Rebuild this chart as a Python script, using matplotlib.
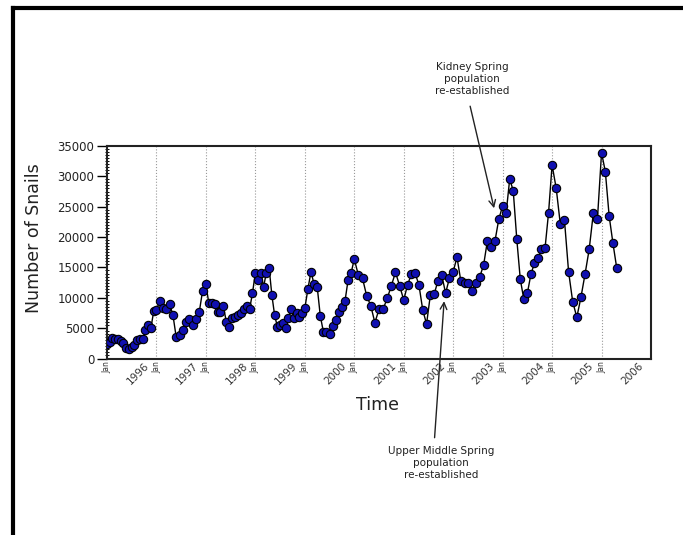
import numpy as np
import matplotlib
matplotlib.use("Agg")
import matplotlib.pyplot as plt
from matplotlib.lines import Line2D
from matplotlib.ticker import MultipleLocator
import matplotlib.transforms as mtransforms

# ---- data (snail counts per sampling date, grouped by year) ----
years = [1996, 1997, 1998, 1999, 2000, 2001, 2002, 2003, 2004, 2005, 2006]
counts_1996 = [2390, 2720, 3330, 3160, 3270, 2940, 2500, 1780, 1510, 1840, 2220, 3050, 3270, 3270, 4700, 5470, 5080, 7770]
counts_1997 = [7990, 9520, 8320, 8150, 8980, 7160, 3490, 3920, 4700, 6060, 6460, 5520, 6460, 7710, 11170]
counts_1998 = [12220, 9090, 9090, 8980, 7710, 7710, 8650, 6060, 5240, 6620, 6790, 7160, 7540, 8100, 8700, 8100, 10740]
counts_1999 = [14130, 12930, 14030, 11830, 14130, 14960, 10460, 7160, 5240, 5520, 5900, 4970, 6620, 8150, 6620, 7440, 6880, 7440]
counts_2000 = [8270, 11450, 14300, 12220, 11830, 7050, 4410, 4310, 4030, 5350, 6340, 7710, 8530, 9470, 12930, 14130]
counts_2001 = [16390, 13700, 13210, 10340, 8700, 5900, 8100, 8150, 9910, 11990, 14200, 11990]
counts_2002 = [9640, 12110, 13870, 14030, 12110, 7990, 5680, 10460, 10570, 12810, 13750, 10740, 13210]
counts_2003 = [14300, 16670, 12810, 12480, 12480, 11170, 12480, 13480, 15400, 19400, 18310, 19400, 22980]
counts_2004 = [25120, 24010, 29560, 27640, 19680, 13040, 9750, 10740, 13870, 15680, 16500, 18030, 18150, 24010]
counts_2005 = [31870, 28030, 22100, 22810, 14300, 9360, 6790, 10080, 13920, 17980, 23910, 22930]
counts_2006 = [33900, 30770, 23470, 18970, 14860]
counts_by_year = [counts_1996, counts_1997, counts_1998, counts_1999, counts_2000, counts_2001,
                  counts_2002, counts_2003, counts_2004, counts_2005, counts_2006]
# sampling frequency (samples per year); 2006 is a partial year sampled at ~13/yr
samples_per_year = [18, 15, 17, 18, 16, 12, 13, 13, 14, 12, 13]
year_labels = ["1996", "1997", "1998", "1999", "2000", "2001", "2002", "2003", "2004", "2005", "2006"]
jan_label = "Jan"

# sampling time in decimal years
t = []
for yr, vals, n in zip(years, counts_by_year, samples_per_year):
    t.extend(yr + i / n for i in range(len(vals)))
t = np.array(t)
y = np.concatenate([np.array(v, dtype=float) for v in counts_by_year])

W, H = 683, 535
fig = plt.figure(figsize=(W / 100, H / 100), dpi=100)
fig.patch.set_facecolor("white")

ax = fig.add_axes([107 / W, 1 - 358.5 / H, (651 - 107) / W, (358.5 - 146) / H])
ax.plot(t, y, color="black", lw=1.0, zorder=3)
ax.plot(t, y, ls="none", marker="o", ms=6, mfc="#1010b0", mec="black", mew=0.8, zorder=4)

ax.set_xlim(1996, 2007)
ax.set_ylim(0, 35000)

ax.set_yticks(np.arange(0, 35001, 5000))
ax.yaxis.set_minor_locator(MultipleLocator(500))
ax.tick_params(axis="y", which="major", length=7, width=1, labelsize=8.5, pad=2, colors="black", labelcolor="#222222")
ax.tick_params(axis="y", which="minor", length=3, width=0.7, direction="inout")
ax.tick_params(axis="x", which="major", length=0, labelsize=5.5, pad=2, labelcolor="#333333")

ax.set_xticks(years)
ax.set_xticklabels([jan_label] * len(years), rotation=90, va="top")
ax.grid(axis="x", color="#999999", ls=":", lw=0.8)
ax.set_axisbelow(True)

for s in ax.spines.values():
    s.set_linewidth(1.5)
    s.set_color("#222222")

trans = mtransforms.blended_transform_factory(ax.transData, ax.transAxes)
for yr, lab in zip(years, year_labels):
    ax.text(yr + 0.62, -0.07, lab, transform=trans, rotation=45, ha="center", va="center",
            fontsize=7.5, color="#333333")

ax.set_ylabel("Number of Snails", fontsize=12.5, color="#222222")
ax.yaxis.set_label_coords(-(107 - 43) / (651 - 107), 0.567)
fig.text(378 / W, 1 - 405 / H, "Time", fontsize=12.5, ha="center", va="center", color="#222222")

# annotations
fig.text(472 / W, 1 - 79 / H, "Kidney Spring\npopulation\nre-established", ha="center", va="center",
         fontsize=7.5, linespacing=1.25, color="#222222")
ax.annotate("", xy=(2003.84, 24300), xytext=(2003.33, 42000), xycoords="data", textcoords="data",
            arrowprops=dict(arrowstyle="->", color="#222222", lw=1.0, mutation_scale=12),
            annotation_clip=False)

fig.text(441 / W, 1 - 463 / H, "Upper Middle Spring\npopulation\nre-established", ha="center", va="center",
         fontsize=7.5, linespacing=1.25, color="#222222")
ax.annotate("", xy=(2002.82, 9900), xytext=(2002.62, -13500), xycoords="data", textcoords="data",
            arrowprops=dict(arrowstyle="->", color="#222222", lw=1.0, mutation_scale=12),
            annotation_clip=False)

# outer frame lines (top and left)
fig.add_artist(Line2D([12.5 / W, 1.0], [1 - 8 / H, 1 - 8 / H], color="black", lw=3.0, transform=fig.transFigure))
fig.add_artist(Line2D([12.5 / W, 12.5 / W], [0.0, 1 - 8 / H], color="black", lw=3.0, transform=fig.transFigure))

fig.savefig("out.png", dpi=100)
